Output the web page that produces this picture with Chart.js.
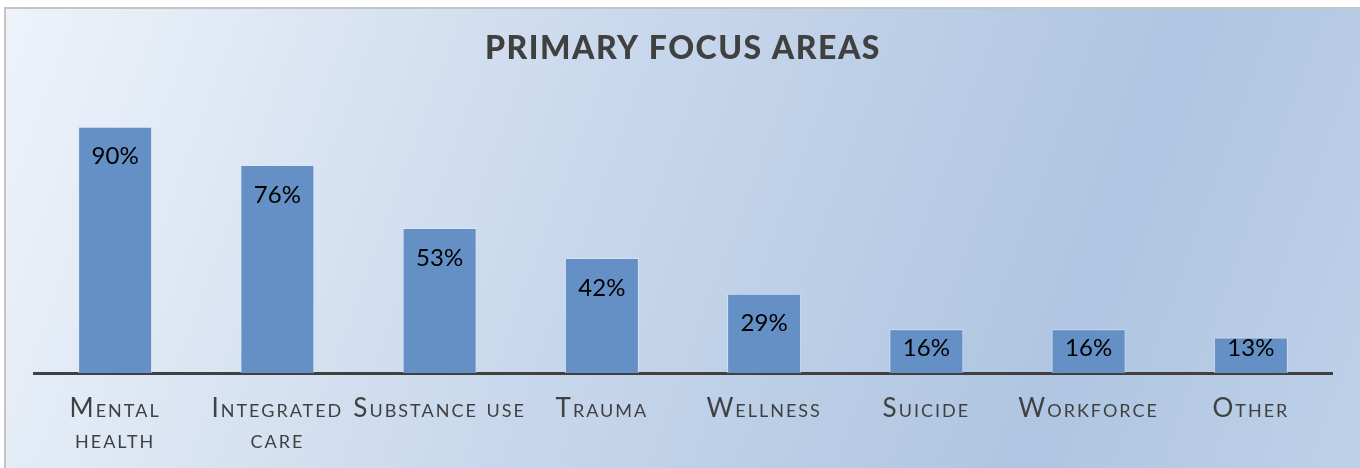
<!DOCTYPE html>
<html>
<head>
<meta charset="utf-8">
<script src="https://cdn.jsdelivr.net/npm/chart.js@4.4.1/dist/chart.umd.min.js"></script>
<style>
  html, body { margin: 0; padding: 0; background: #fff; overflow: hidden; }
  #frame {
    position: absolute; left: 4px; top: 7px; width: 1400px; height: 500px;
    border: 2px solid #c4c4c4;
    background: linear-gradient(110deg, #eef3fa 0%, #c9d8ec 40%, #afc5e1 75%, #c2d3ea 100%);
  }
  #wrap { position: absolute; left: 0; top: 0; width: 1360px; height: 468px; }
</style>
</head>
<body>
<div id="frame"></div>
<div id="wrap"><canvas id="myChart"></canvas></div>
<script>
// chart data
var categories = [['Mental', 'health'], ['Integrated', 'care'], 'Substance use', 'Trauma', 'Wellness', 'Suicide', 'Workforce', 'Other'];
var percents = [90, 76, 53, 42, 29, 16, 16, 13];
var valueLabels = ['90%', '76%', '53%', '42%', '29%', '16%', '16%', '13%'];

// letter spacing: title is drawn before the bars, axis labels (z:1) after them
var spacing = {
    id: 'spacing',
    beforeDraw: function(chart) {
        chart.ctx.letterSpacing = '1.5px';
    },
    afterDatasetsDraw: function(chart) {
        var ctx = chart.ctx;
        var meta = chart.getDatasetMeta(0);
        // % labels inside the top of each bar
        ctx.save();
        ctx.letterSpacing = '0px';
        ctx.font = '24px Lato';
        ctx.fillStyle = '#000';
        ctx.textAlign = 'center';
        ctx.textBaseline = 'middle';
        meta.data.forEach(function(bar, i) {
            var y = Math.min(bar.y + 30, bar.base - 25);
            ctx.fillText(valueLabels[i], bar.x, y);
        });
        ctx.restore();
        ctx.letterSpacing = '2px';
    },
    afterDraw: function(chart) {
        chart.ctx.letterSpacing = '0px';
    }
};

var ctx = document.getElementById('myChart').getContext('2d');
var myChart = new Chart(ctx, {
    type: 'bar',
    data: {
        labels: categories,
        datasets: [{
            label: 'Primary focus areas',
            data: percents,
            backgroundColor: '#6590c6',
            borderColor: 'rgba(220,232,246,0.7)',
            borderWidth: 1,
            barPercentage: 0.456,
            categoryPercentage: 1
        }]
    },
    options: {
        responsive: true,
        maintainAspectRatio: false,
        animation: false,
        layout: { padding: { left: 34, right: 28, top: 0, bottom: 0 } },
        plugins: {
            legend: { display: false },
            tooltip: { enabled: false },
            title: {
                display: true,
                text: 'PRIMARY FOCUS AREAS',
                color: '#404040',
                font: { family: 'Lato', size: 32, weight: 900 },
                padding: { top: 29, bottom: 32 }
            }
        },
        scales: {
            x: {
                grid: { display: false, drawTicks: false },
                border: { display: true, color: '#404040', width: 3 },
                afterFit: function(scale) { scale.height = 95; },
                ticks: {
                    z: 1,
                    color: '#404040',
                    padding: 20,
                    maxRotation: 0,
                    autoSkip: false,
                    font: { family: 'Lato', size: 26, weight: 'small-caps', lineHeight: 1.2 }
                }
            },
            y: {
                display: false,
                min: 0,
                max: 100
            }
        }
    },
    plugins: [spacing]
});
</script>
</body>
</html>
